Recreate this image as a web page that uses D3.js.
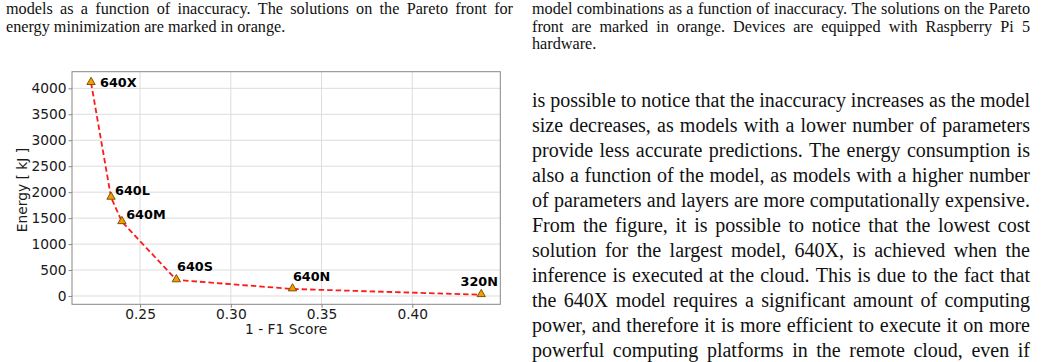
<!DOCTYPE html>
<html>
<head>
<meta charset="utf-8">
<script src="https://cdn.jsdelivr.net/npm/d3@7"></script>
<style>
  html, body { margin: 0; padding: 0; background: #fff; }
  svg { display: block; }
</style>
</head>
<body>
<div id="page"></div>
<script>
// chart values
var models = ["640X", "640L", "640M", "640S", "640N", "320N"];
var inaccuracy = [0.223, 0.234, 0.240, 0.270, 0.334, 0.438];
var energy = [4110, 1900, 1430, 310, 135, 25];
var xTickValues = [0.25, 0.30, 0.35, 0.40];
var yTickValues = [0, 500, 1000, 1500, 2000, 2500, 3000, 3500, 4000];

// surrounding page text
var leftCaption = [
  "models as a function of inaccuracy. The solutions on the Pareto front for",
  "energy minimization are marked in orange."
];
var rightCaption = [
  "model combinations as a function of inaccuracy. The solutions on the Pareto",
  "front are marked in orange. Devices are equipped with Raspberry Pi 5",
  "hardware."
];
var bodyText = [
  "is possible to notice that the inaccuracy increases as the model",
  "size decreases, as models with a lower number of parameters",
  "provide less accurate predictions. The energy consumption is",
  "also a function of the model, as models with a higher number",
  "of parameters and layers are more computationally expensive.",
  "From the figure, it is possible to notice that the lowest cost",
  "solution for the largest model, 640X, is achieved when the",
  "inference is executed at the cloud. This is due to the fact that",
  "the 640X model requires a significant amount of computing",
  "power, and therefore it is more efficient to execute it on more",
  "powerful computing platforms in the remote cloud, even if"
];

var width = 1043, height = 362;
var svg = d3.select("#page").append("svg")
    .attr("width", width)
    .attr("height", height);

// ---- justified text lines (word by word) ----
function textBlock(lines, x0, x1, y0, lineH, size, lastJustified) {
  var g = svg.append("g")
      .attr("font-family", "'Liberation Serif', 'Times New Roman', serif")
      .attr("font-size", size)
      .attr("fill", "#111");
  lines.forEach(function (line, i) {
    var ty = y0 + i * lineH;
    var words = line.split(" ");
    var justify = (i < lines.length - 1) || lastJustified;
    if (!justify) {
      g.append("text").attr("x", x0).attr("y", ty).text(line);
      return;
    }
    var widths = words.map(function (w) {
      var t = g.append("text").text(w);
      var wd = t.node().getComputedTextLength();
      t.remove();
      return wd;
    });
    var total = d3.sum(widths);
    var gap = (x1 - x0 - total) / (words.length - 1);
    var tx = x0;
    words.forEach(function (w, k) {
      g.append("text").attr("x", tx).attr("y", ty).text(w);
      tx += widths[k] + gap;
    });
  });
}

textBlock(leftCaption, 6, 513, 14, 17.7, 16.2, false);
textBlock(rightCaption, 532, 1030, 14, 17.7, 16.2, false);
textBlock(bodyText, 532, 1030, 107, 25, 20, true);

// ---- chart ----
var plotLeft = 72, plotRight = 500.3, plotTop = 71.7, plotBottom = 304.3;

var x = d3.scaleLinear().domain([0.2125, 0.4485]).range([plotLeft, plotRight]);
var y = d3.scaleLinear().domain([-160, 4320]).range([plotBottom, plotTop]);

var chart = svg.append("g")
    .attr("font-family", "'DejaVu Sans', sans-serif");

// grid
chart.append("g").selectAll("line")
    .data(xTickValues).enter().append("line")
    .attr("x1", d => x(d)).attr("x2", d => x(d))
    .attr("y1", plotTop).attr("y2", plotBottom)
    .attr("stroke", "#dcdcdc").attr("stroke-width", 1);
chart.append("g").selectAll("line")
    .data(yTickValues).enter().append("line")
    .attr("x1", plotLeft).attr("x2", plotRight)
    .attr("y1", d => y(d)).attr("y2", d => y(d))
    .attr("stroke", "#dcdcdc").attr("stroke-width", 1);

// axes
var xAxis = d3.axisBottom(x).tickValues(xTickValues)
    .tickFormat(d3.format(".2f")).tickSize(3.5).tickPadding(1.5);
var yAxis = d3.axisLeft(y).tickValues(yTickValues)
    .tickFormat(d3.format("d")).tickSize(3.5).tickPadding(2);

var gx = chart.append("g").attr("transform", "translate(0," + plotBottom + ")").call(xAxis);
var gy = chart.append("g").attr("transform", "translate(" + plotLeft + ",0)").call(yAxis);
[gx, gy].forEach(function (a) {
  a.select(".domain").remove();
  a.selectAll(".tick line").attr("stroke", "#888");
  a.selectAll(".tick text")
      .attr("font-family", "'DejaVu Sans', sans-serif")
      .attr("font-size", 13.8)
      .attr("fill", "#1a1a1a");
});

// frame
chart.append("rect")
    .attr("x", plotLeft).attr("y", plotTop)
    .attr("width", plotRight - plotLeft).attr("height", plotBottom - plotTop)
    .attr("fill", "none").attr("stroke", "#888").attr("stroke-width", 1);

// axis titles
chart.append("text")
    .attr("x", (plotLeft + plotRight) / 2).attr("y", 334)
    .attr("text-anchor", "middle")
    .attr("font-size", 13.8).attr("fill", "#1a1a1a")
    .text("1 - F1 Score");
chart.append("text")
    .attr("transform", "translate(26.5,190) rotate(-90)")
    .attr("text-anchor", "middle")
    .attr("font-size", 13.8).attr("fill", "#1a1a1a")
    .text("Energy [ kJ ]");

// pareto line
var pts = models.map((m, i) => ({ name: m, x: inaccuracy[i], y: energy[i] }));
var line = d3.line().x(d => x(d.x)).y(d => y(d.y));
chart.append("path")
    .datum(pts)
    .attr("d", line)
    .attr("fill", "none")
    .attr("stroke", "#ff1a1a")
    .attr("stroke-width", 1.8)
    .attr("stroke-dasharray", "5.5,3");

// triangle markers
var tri = d3.symbol().type(d3.symbolTriangle).size(30);
chart.append("g").selectAll("path")
    .data(pts).enter().append("path")
    .attr("d", tri)
    .attr("transform", d => "translate(" + x(d.x) + "," + (y(d.y) - 0.5) + ")")
    .attr("fill", "#f59d00")
    .attr("stroke", "#6b4a00")
    .attr("stroke-width", 0.9);

// labels, nudged like the original annotations
var labelOffsets = [[9, 0], [4, -7], [4.3, -7.7], [0.7, -13.4], [0.4, -12.2], [-20.7, -13.4]];
chart.append("g").selectAll("text")
    .data(pts).enter().append("text")
    .attr("x", (d, i) => x(d.x) + labelOffsets[i][0])
    .attr("y", (d, i) => y(d.y) + labelOffsets[i][1])
    .attr("dy", "0.36em")
    .attr("font-size", 12.8)
    .attr("font-weight", "bold")
    .attr("fill", "#000")
    .text(d => d.name);
</script>
</body>
</html>
